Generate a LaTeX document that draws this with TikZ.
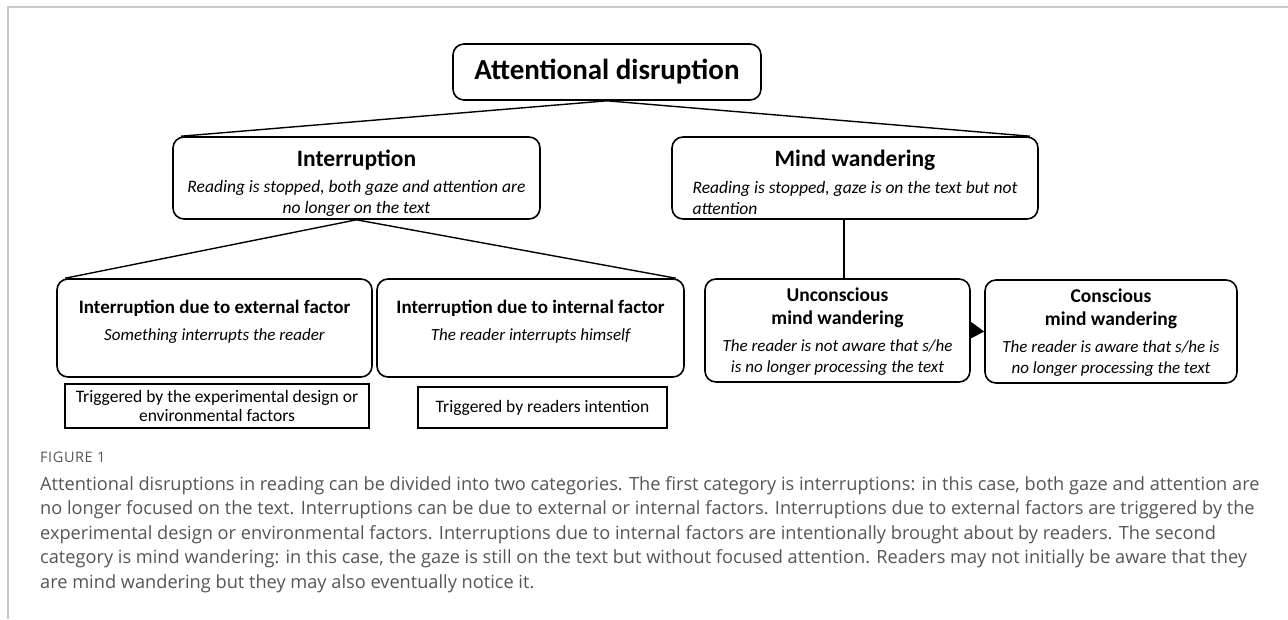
\documentclass[tikz,border=0pt]{standalone}
\usepackage{fontspec}
\setmainfont{Carlito}
\newfontfamily\capfont{Open Sans}
\usetikzlibrary{arrows.meta,calc}
\definecolor{capgray}{RGB}{85,85,85}
\definecolor{framegray}{RGB}{200,200,200}
\newcommand{\fs}[2]{\fontsize{#1}{#2}\selectfont}
\newcommand{\boxcontent}[4]{\parbox[c][#2][t]{#1}{\centering\vspace*{#3}#4\par}}
\begin{document}
\begin{tikzpicture}[x=1pt,y=-1pt,
  rbox/.style={draw=black, line width=1.6pt, rounded corners=11pt, inner sep=0pt},
  sbox/.style={draw=black, line width=1.6pt, inner sep=0pt, align=center, font=\fs{17.5}{19}},
  conn/.style={draw=black, line width=1.4pt},
]
\useasboundingbox (0,0) rectangle (1288,619);
\draw[framegray, line width=1.2pt] (1288,7) -- (8,7) -- (8,619);

% root
\node[rbox, minimum width=308pt, minimum height=56pt] (root) at (607,72)
  {\fs{29}{30}\bfseries Attentional disruption};

% level 1
\node[rbox] (intr) at (356.5,178) {\boxcontent{367pt}{82pt}{13pt}{%
  {\fs{23.5}{24}\bfseries Interruption\par}\vspace{5pt}
  {\fs{17.5}{21}\itshape Reading is stopped, both gaze and attention are\\ no longer on the text\par}}};
\node[rbox] (mind) at (855,178) {\boxcontent{366pt}{82pt}{13pt}{%
  {\fs{23.5}{24}\bfseries Mind wandering\par}\vspace{6pt}
  {\fs{17.5}{21}\itshape\begin{tabular}[t]{@{}l@{}}Reading is stopped, gaze is on the text but not\\ attention\end{tabular}\par}}};

% level 2
\node[rbox] (ext) at (214.5,328) {\boxcontent{315pt}{98pt}{21pt}{%
  {\fs{19}{20}\bfseries Interruption due to external factor\par}\vspace{8pt}
  {\fs{17}{19}\itshape Something interrupts the reader\par}}};
\node[rbox] (int) at (530.5,328) {\boxcontent{307pt}{98pt}{21pt}{%
  {\fs{19}{20}\bfseries Interruption due to internal factor\par}\vspace{8pt}
  {\fs{17}{19}\itshape The reader interrupts himself\par}}};
\node[rbox] (unc) at (837.5,330.5) {\boxcontent{265pt}{103pt}{9pt}{%
  {\fs{19.5}{23}\bfseries Unconscious\\ mind wandering\par}\vspace{6pt}
  {\fs{17}{21}\itshape The reader is not aware that s/he\\ is no longer processing the text\par}}};
\node[rbox] (conc) at (1111,331.5) {\boxcontent{252pt}{103pt}{9pt}{%
  {\fs{19.5}{23}\bfseries Conscious\\ mind wandering\par}\vspace{6pt}
  {\fs{17}{21}\itshape The reader is aware that s/he is\\ no longer processing the text\par}}};

% triggered boxes
\node[sbox, minimum width=304pt, minimum height=44pt] (trig1) at (217,406)
  {Triggered by the experimental design or\\ environmental factors};
\node[sbox, minimum width=249pt, minimum height=41pt] (trig2) at (542.5,407.5)
  {Triggered by readers intention};

% connectors
\draw[conn] (root.south) -- ($(intr.north west)+(9,0)$);
\draw[conn] (root.south) -- ($(mind.north east)+(-9,0)$);
\draw[conn] (intr.south) -- ($(ext.north west)+(9,0)$);
\draw[conn] (intr.south) -- ($(int.north east)+(-9,0)$);
\coordinate (uj) at ($(unc.north)+(6.5,0)$);
\draw[conn] (uj) -- (uj |- mind.south);
\draw[conn, -{Triangle[length=14pt,width=17pt]}] (unc.east) -- (conc.west);

% caption
\node[anchor=west, inner sep=0pt, text=capgray, font=\capfont\addfontfeature{LetterSpace=4}\fs{14.5}{16}] (fig) at (40,457)
  {FIGURE 1};
\node[anchor=north west, inner sep=0pt, align=left, text=capgray, font=\capfont\fs{18.2}{24.5}] (cap) at (40,476)
  {Attentional disruptions in reading can be divided into two categories. The first category is interruptions: in this case, both gaze and attention are\\
no longer focused on the text. Interruptions can be due to external or internal factors. Interruptions due to external factors are triggered by the\\
experimental design or environmental factors. Interruptions due to internal factors are intentionally brought about by readers. The second\\
category is mind wandering: in this case, the gaze is still on the text but without focused attention. Readers may not initially be aware that they\\
are mind wandering but they may also eventually notice it.};
\end{tikzpicture}
\end{document}
